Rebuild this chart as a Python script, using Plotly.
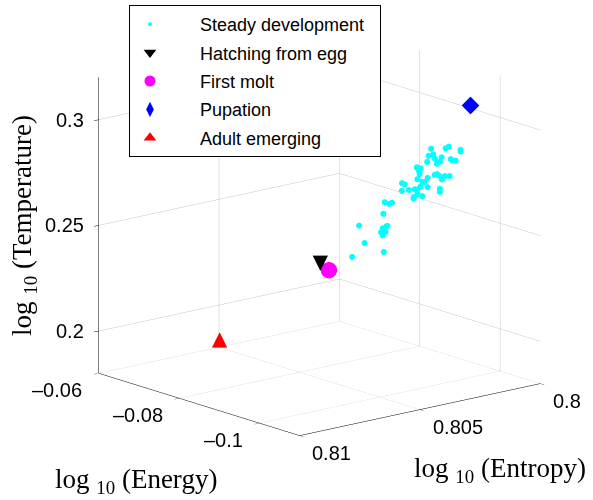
import plotly.graph_objects as go

# ---- data (log10 values) ----
steady_energy = [-0.0914, -0.0929, -0.0932, -0.0944, -0.0944, -0.0911, -0.0916, -0.0918, -0.0925, -0.0910,
                 -0.0920, -0.0923, -0.0934, -0.0935, -0.0939, -0.0899, -0.0902, -0.0903, -0.0901, -0.0902,
                 -0.0917, -0.0920, -0.0922, -0.0928, -0.0933, -0.0900, -0.0905, -0.0907, -0.0910, -0.0925,
                 -0.0884, -0.0887, -0.0903, -0.0910, -0.0897, -0.0899, -0.0884, -0.0891, -0.0923, -0.0923,
                 -0.0900, -0.0905, -0.0896, -0.0896, -0.0866, -0.0871, -0.0874, -0.0865, -0.0840, -0.0868,
                 -0.0869, -0.0864, -0.0862, -0.0867, -0.0864, -0.0846, -0.0865, -0.0833]
steady_entropy = [0.80143, 0.80108, 0.80100, 0.80071, 0.80071, 0.80149, 0.80138, 0.80134, 0.80118, 0.80153,
                  0.80129, 0.80121, 0.80095, 0.80092, 0.80083, 0.80178, 0.80172, 0.80168, 0.80173, 0.80171,
                  0.80134, 0.80128, 0.80125, 0.80110, 0.80098, 0.80177, 0.80164, 0.80160, 0.80151, 0.80117,
                  0.80214, 0.80208, 0.80170, 0.80151, 0.80183, 0.80178, 0.80215, 0.80198, 0.80122, 0.80122,
                  0.80177, 0.80165, 0.80186, 0.80185, 0.80256, 0.80245, 0.80239, 0.80260, 0.80319, 0.80253,
                  0.80250, 0.80261, 0.80265, 0.80254, 0.80261, 0.80306, 0.80258, 0.80336]
steady_temp = [0.2837, 0.2839, 0.2847, 0.2832, 0.2824, 0.2803, 0.2810, 0.2790, 0.2797, 0.2775,
               0.2766, 0.2776, 0.2788, 0.2783, 0.2781, 0.2749, 0.2744, 0.2744, 0.2733, 0.2718,
               0.2713, 0.2717, 0.2711, 0.2708, 0.2708, 0.2693, 0.2680, 0.2680, 0.2699, 0.2692,
               0.2674, 0.2669, 0.2657, 0.2655, 0.2645, 0.2643, 0.2638, 0.2642, 0.2648, 0.2633,
               0.2622, 0.2613, 0.2601, 0.2608, 0.2584, 0.2576, 0.2582, 0.2529, 0.2473, 0.2470,
               0.2472, 0.2460, 0.2441, 0.2444, 0.2427, 0.2391, 0.2348, 0.2325]

hatch = [-0.0800, 0.80414, 0.2295]      # energy, entropy, temperature
molt = [-0.0809, 0.80393, 0.2263]
pupation = [-0.0960, 0.80057, 0.3048]
adult = [-0.0625, 0.80540, 0.1860]

energy_range = [-0.11, -0.06]
entropy_range = [0.8, 0.81]
temp_range = [0.18, 0.32]
energy_ticks = [-0.1, -0.08, -0.06]
energy_ticklabels = ['\u20130.1', '\u20130.08', '\u20130.06']
entropy_ticks = [0.8, 0.805, 0.81]
entropy_ticklabels = ['0.8', '0.805', '0.81']
temp_ticks = [0.2, 0.25, 0.3]
temp_ticklabels = ['0.2', '0.25', '0.3']

legend_names = ['Steady development', 'Hatching from egg', 'First molt', 'Pupation', 'Adult emerging']

SANS = 'Liberation Sans, Arial, Helvetica, sans-serif'
SERIF = 'Liberation Serif, Times New Roman, serif'
PAD = '\u00a0' * 6
TICKFONT = dict(family=SANS, size=20, color='black')
TITLEFONT = dict(family=SERIF, size=27, color='black')


def inside(v, rng):
    # keep annotation anchors numerically inside the axis range
    eps = (rng[1] - rng[0]) * 1e-6
    return min(max(v, rng[0] + eps), rng[1] - eps)


fig = go.Figure()

# 3D marks
fig.add_trace(go.Scatter3d(x=steady_energy, y=steady_entropy, z=steady_temp, mode='markers',
                           marker=dict(size=3.5, color='#00FFFF', line=dict(width=0)), showlegend=False,
                           hoverinfo='skip'))
fig.add_trace(go.Scatter3d(x=[hatch[0]], y=[hatch[1]], z=[hatch[2]], mode='text', text=['\u25BC'],
                           textposition='middle center',
                           textfont=dict(size=20, color='black', family='DejaVu Sans'), showlegend=False))
fig.add_trace(go.Scatter3d(x=[molt[0]], y=[molt[1]], z=[molt[2]], mode='markers',
                           marker=dict(size=9.5, color='#FF00FF', line=dict(width=0)), showlegend=False))
fig.add_trace(go.Scatter3d(x=[pupation[0]], y=[pupation[1]], z=[pupation[2]], mode='markers',
                           marker=dict(size=5.8, color='#0000FF', symbol='diamond', line=dict(width=0)),
                           showlegend=False))
fig.add_trace(go.Scatter3d(x=[adult[0]], y=[adult[1]], z=[adult[2]], mode='text', text=['\u25B2'],
                           textposition='middle center',
                           textfont=dict(size=20, color='red', family='DejaVu Sans'), showlegend=False))

# legend-only entries
leg_styles = [dict(symbol='circle', size=4, color='#00FFFF'),
              dict(symbol='triangle-down', size=11, color='black'),
              dict(symbol='circle', size=11, color='#FF00FF'),
              dict(symbol='diamond-tall', size=11, color='#0000FF'),
              dict(symbol='triangle-up', size=11, color='red')]
for name, st in zip(legend_names, leg_styles):
    fig.add_trace(go.Scatter(x=[None], y=[None], mode='markers', name=PAD + name + '\u00a0\u00a0',
                             legendgroup=name,
                             marker=dict(symbol=st['symbol'], size=st['size'], color=st['color'],
                                         line=dict(width=0))))

axis_common = dict(showbackground=False, showgrid=True, gridcolor='#c4c4c4', gridwidth=1,
                   showline=True, linecolor='black', linewidth=1, zeroline=False,
                   ticks='outside', ticklen=6, tickcolor='black', showspikes=False,
                   showticklabels=False, title=dict(text=''))

# tick labels as horizontal scene annotations, anchored at the tick data positions
scene_ann = []
for v, t in zip(energy_ticks, energy_ticklabels):
    scene_ann.append(dict(x=inside(v, energy_range), y=inside(entropy_range[1], entropy_range),
                          z=inside(temp_range[0], temp_range), text=t, showarrow=False,
                          xanchor='right', yanchor='middle', xshift=-14, yshift=-17, font=TICKFONT))
for v, t in zip(entropy_ticks, entropy_ticklabels):
    scene_ann.append(dict(x=inside(energy_range[0], energy_range), y=inside(v, entropy_range),
                          z=inside(temp_range[0], temp_range), text=t, showarrow=False,
                          xanchor='left', yanchor='middle', xshift=11, yshift=-17, font=TICKFONT))
for v, t in zip(temp_ticks, temp_ticklabels):
    scene_ann.append(dict(x=inside(energy_range[1], energy_range), y=inside(entropy_range[1], entropy_range),
                          z=inside(v, temp_range), text=t, showarrow=False,
                          xanchor='right', yanchor='middle', xshift=-12, yshift=0, font=TICKFONT))

fig.update_layout(
    width=593, height=500,
    margin=dict(l=0, r=0, t=0, b=0),
    paper_bgcolor='white', plot_bgcolor='white',
    font=dict(family=SANS, color='black'),
    xaxis=dict(visible=False), yaxis=dict(visible=False),
    scene=dict(
        domain=dict(x=[0.0768, 1.0], y=[0.078, 1.0]),
        bgcolor='white',
        xaxis=dict(range=energy_range, tickvals=energy_ticks, **axis_common),
        yaxis=dict(range=entropy_range, tickvals=entropy_ticks, **axis_common),
        zaxis=dict(range=temp_range, tickvals=temp_ticks, **axis_common),
        aspectmode='manual', aspectratio=dict(x=1.36, y=1.36, z=1.329),
        camera=dict(eye=dict(x=-1.483, y=1.238, z=0.518), up=dict(x=0, y=0, z=1),
                    center=dict(x=0, y=0, z=0), projection=dict(type='orthographic')),
        annotations=scene_ann,
    ),
    legend=dict(x=129 / 593, y=1 - 5 / 500, xanchor='left', yanchor='top',
                bordercolor='black', borderwidth=1, bgcolor='white',
                font=dict(family=SANS, size=18, color='black'),
                tracegroupgap=2),
    annotations=[
        dict(text='log <sub>10</sub> (Temperature)', x=24 / 593, y=1 - 226 / 500, xref='paper', yref='paper',
             textangle=-90, showarrow=False, font=TITLEFONT, xanchor='center', yanchor='middle'),
        dict(text='log <sub>10</sub> (Energy)', x=136 / 593, y=1 - 481 / 500, xref='paper', yref='paper',
             showarrow=False, font=TITLEFONT, xanchor='center', yanchor='middle'),
        dict(text='log <sub>10</sub> (Entropy)', x=500 / 593, y=1 - 470 / 500, xref='paper', yref='paper',
             showarrow=False, font=TITLEFONT, xanchor='center', yanchor='middle'),
    ],
)

fig.write_html('out.html')
